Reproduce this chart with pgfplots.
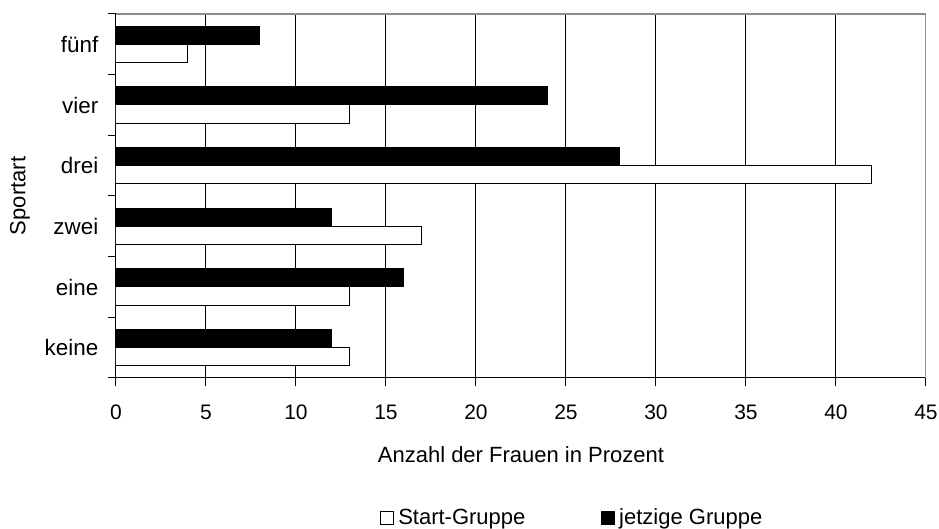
\documentclass[border=0pt]{standalone}
\usepackage{fontspec}
\setmainfont{Liberation Sans}
\usepackage{pgfplots}
\pgfplotsset{compat=1.18}
\begin{document}
\fontsize{11pt}{13pt}\selectfont
\begin{tikzpicture}
\useasboundingbox (-58pt,-75.5pt) rectangle (411.5pt,189pt);
\begin{axis}[
  scale only axis,
  width=405pt, height=182pt,
  xmin=0, xmax=45,
  ymin=-0.5, ymax=5.5,
  axis x line*=bottom,
  axis y line*=left,
  axis line style={black, line width=0.5pt},
  xtick={0,5,...,45},
  xtick align=outside,
  ytick align=outside,
  major tick length=4pt,
  tick style={black, line width=0.5pt},
  xmajorgrids,
  major grid style={black, line width=0.5pt},
  ytick={-0.5,0.5,...,5.5},
  yticklabels={},
  extra y ticks={0,1,2,3,4,5},
  extra y tick labels={keine,eine,zwei,drei,vier,f\"unf},
  extra y tick style={major tick length=0pt, grid=none},
  yticklabel style={font=\fontsize{11.2pt}{13pt}\selectfont, xshift=-5pt},
  xticklabel style={font=\fontsize{10.5pt}{12pt}\selectfont, yshift=-5.5pt},
  /pgf/number format/assume math mode=true,
  every axis x label/.style={at={(axis description cs:0.5,-0.2115)},anchor=center},
  every axis y label/.style={at={(axis description cs:-0.1185,0.5)},rotate=90,anchor=center},
  xlabel={Anzahl der Frauen in Prozent},
  ylabel={Sportart},
  label style={font=\fontsize{11pt}{13pt}\selectfont},
  xbar,
  bar width=0.3,
  legend columns=2,
  legend style={at={(axis description cs:0.326,-0.385)}, anchor=west, draw=none, inner sep=0pt, font=\fontsize{11pt}{13pt}\selectfont,
    /tikz/every even column/.append style={column sep=36pt},
    cells={anchor=west}},
  legend image code/.code={\draw[#1, line width=0.5pt] (0pt,-3.2pt) rectangle (6.4pt,3.2pt);},
]
\addplot[draw=black, fill=white, line width=0.5pt, bar shift=-0.15] coordinates {(13,0) (13,1) (17,2) (42,3) (13,4) (4,5)};
\addlegendentry{Start-Gruppe}
\addplot[draw=black, fill=black, line width=0.5pt, bar shift=0.15] coordinates {(12,0) (16,1) (12,2) (28,3) (24,4) (8,5)};
\addlegendentry{jetzige Gruppe}
\draw[gray!90, line width=0.75pt] (rel axis cs:0,1) -- (rel axis cs:1,1) -- (rel axis cs:1,0);
\end{axis}
\end{tikzpicture}
\end{document}
